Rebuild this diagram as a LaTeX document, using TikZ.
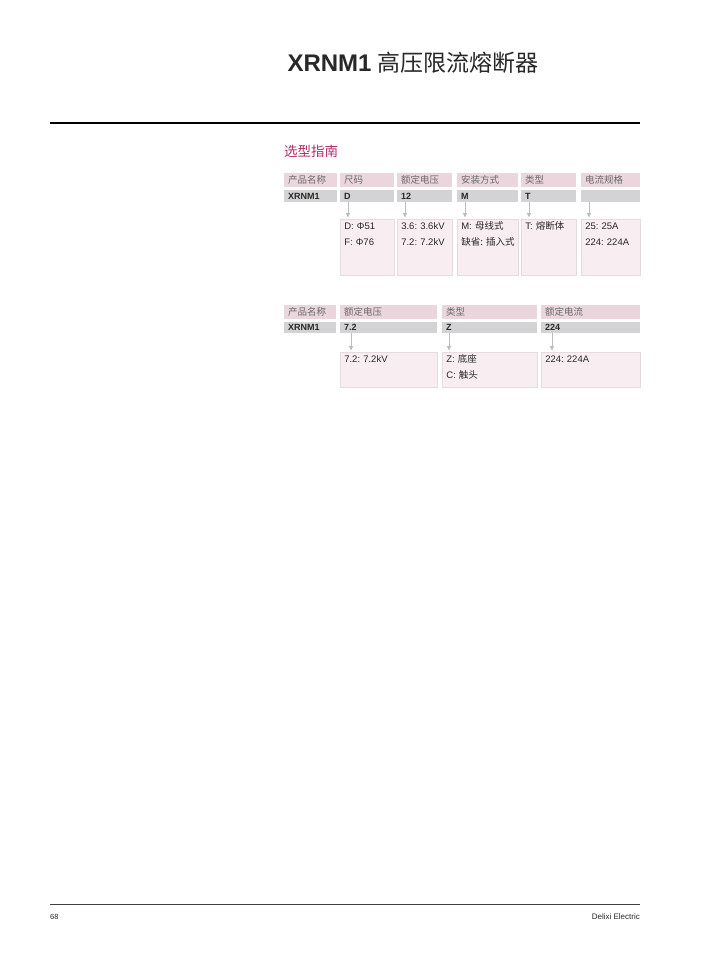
\documentclass[tikz,border=0pt]{standalone}
\usepackage{fontspec}
\setmainfont{Liberation Sans}
\newfontfamily\cjk{Noto Sans CJK SC}
\usetikzlibrary{arrows.meta,positioning}
\frenchspacing

\definecolor{hdpink}{RGB}{235,214,221}
\definecolor{codegrey}{RGB}{211,211,213}
\definecolor{optpink}{RGB}{248,238,241}
\definecolor{optline}{RGB}{229,219,223}
\definecolor{hdtext}{RGB}{105,105,105}
\definecolor{guide}{RGB}{176,42,110}
\definecolor{arrgrey}{RGB}{188,188,188}
\definecolor{ink}{RGB}{40,40,40}

\newcommand{\zh}[1]{{\cjk #1}}

\tikzset{
  hdcell/.style={anchor=north west, fill=hdpink, text=hdtext, minimum height=14pt,
    inner xsep=4pt, inner ysep=0pt, align=left, font=\fontsize{9.5}{11}\selectfont\cjk},
  codecell/.style={anchor=north west, fill=codegrey, text=ink, inner xsep=4pt,
    inner ysep=0pt, align=left, font=\fontsize{9}{11}\selectfont\bfseries},
  optbox/.style={anchor=north west, fill=optpink, draw=optline, line width=0.6pt,
    inner xsep=4pt, inner ysep=2.5pt, text height=8pt, align=left, text=ink,
    font=\fontsize{9.5}{16}\selectfont},
  pick/.style={draw=arrgrey, line width=0.8pt, -{Triangle[length=4.5pt,width=4pt]}, shorten >=1.5pt}
}

\begin{document}
\begin{tikzpicture}[x=1pt,y=-1pt]

	\fill[white] (0,0) rectangle (703,954);
	\useasboundingbox (0,0) rectangle (703,954);

	% title and rules
	\node[anchor=base west, text=ink] (title) at (284,71)
		{\fontsize{24}{24}\selectfont\textbf{XRNM1}\hspace{6pt}{\cjk\fontsize{23}{23}\selectfont 高压限流熔断器}};
	\draw[line width=1.2pt, black] (50,123) -- (640,123);
	\node[anchor=west, inner sep=0pt, text=guide, font=\fontsize{13.5}{14}\selectfont\cjk] (guide) at (284,151.5) {选型指南};

	% first code table
	\node[hdcell, minimum width=53pt, text width=45pt] (hdA1) at (284,173) {产品名称};
	\node[codecell, minimum width=53pt, text width=45pt, minimum height=12pt] (cdA1) at (284,190) {XRNM1};
	\foreach \n/\x/\w/\hd/\cd/\la/\lb in {
		2/340/54/尺码/D/{D: Φ51}/{F: Φ76},
		3/397/55/额定电压/12/{3.6: 3.6kV}/{7.2: 7.2kV},
		4/457/61/安装方式/M/{M: \zh{母线式}}/{\zh{缺省: 插入式}},
		5/521/55/类型/T/{T: \zh{熔断体}}/{},
		6/581/59/电流规格/{}/{25: 25A}/{224: 224A}}
	{
		\pgfmathsetmacro{\tw}{\w-8}
		\node[hdcell, minimum width=\w pt, text width=\tw pt] (hdA\n) at (\x,173) {\hd};
		\node[codecell, minimum width=\w pt, text width=\tw pt, minimum height=12pt] (cdA\n) at (\x,190) {\cd};
		\node[optbox, minimum width=\w pt, text width=\tw pt, text depth=43pt] (opA\n) at (\x,219) {\mbox{\la}\\\mbox{\lb}};
		\draw[pick] ([xshift=8pt]cdA\n.south west) -- ([xshift=8pt]opA\n.north west);
	}

	% second code table
	\node[hdcell, minimum width=52pt, text width=44pt] (hdB1) at (284,305) {产品名称};
	\node[codecell, minimum width=52pt, text width=44pt, minimum height=11pt] (cdB1) at (284,322) {XRNM1};
	\foreach \n/\x/\w/\d/\hd/\cd/\la/\lb in {
		2/340/97/11/额定电压/7.2/{7.2: 7.2kV}/{},
		3/442/95/7/类型/Z/{Z: \zh{底座}}/{C: \zh{触头}},
		4/541/99/11/额定电流/224/{224: 224A}/{}}
	{
		\pgfmathsetmacro{\tw}{\w-8}
		\node[hdcell, minimum width=\w pt, text width=\tw pt] (hdB\n) at (\x,305) {\hd};
		\node[codecell, minimum width=\w pt, text width=\tw pt, minimum height=11pt] (cdB\n) at (\x,322) {\cd};
		\node[optbox, minimum width=\w pt, text width=\tw pt, text depth=22pt] (opB\n) at (\x,352) {\mbox{\la}\\\mbox{\lb}};
		\draw[pick] ([xshift=\d pt]cdB\n.south west) -- ([xshift=\d pt]opB\n.north west);
	}

	% footer
	\draw[line width=0.9pt, black!75] (50,904) -- (640,904);
	\node[anchor=base west, inner sep=0pt, text=ink, font=\fontsize{7.5}{9}\selectfont] (pageno) at (50,919) {68};
	\node[anchor=base east, inner sep=0pt, text=ink, font=\fontsize{8}{9}\selectfont] (brand) at (640,919) {Delixi Electric};

\end{tikzpicture}
\end{document}
